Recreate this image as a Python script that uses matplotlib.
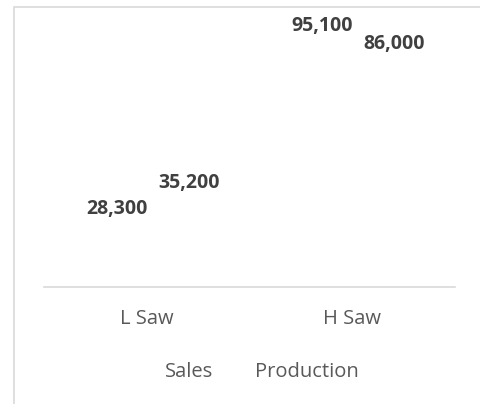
import matplotlib.pyplot as plt
import numpy as np
from matplotlib.patches import Rectangle

# ---- DATA ----
categories = ["L Saw", "H Saw"]
sales = [28300, 95100]
production = [35200, 86000]

plt.rcParams['font.family'] = ['Open Sans', 'DejaVu Sans']

fig = plt.figure(figsize=(4.81, 4.04), dpi=100)
# outer chart border (cut off at right and bottom)
fig.patches.append(Rectangle((14 / 481, -0.1), 1.2, (404 - 7) / 404 + 0.1,
                             transform=fig.transFigure, fill=False,
                             edgecolor="#d9d9d9", linewidth=1.2))

ax = fig.add_axes([44 / 481, (404 - 287) / 404, 411 / 481, 274 / 404])
x = np.arange(len(categories))
w = 0.34
b1 = ax.bar(x - 0.145, sales, w, color="white", label="Sales")
b2 = ax.bar(x + 0.205, production, w, color="white", label="Production")

for rect, v in zip(b1, sales):
    ax.annotate(f"{v:,}", (rect.get_x() + w / 2, v), xytext=(0, 0),
                textcoords="offset points", ha="center", va="center",
                fontsize=14, fontweight="bold", color="#404040")
for rect, v in zip(b2, production):
    ax.annotate(f"{v:,}", (rect.get_x() + w / 2, v), xytext=(0, 5.4),
                textcoords="offset points", ha="center", va="center",
                fontsize=14, fontweight="bold", color="#404040")

ax.set_xlim(-0.5, 1.5)
ax.set_ylim(0, 100000)
ax.set_xticks(x)
ax.set_xticklabels(categories, fontsize=14.5, color="#595959")
ax.tick_params(axis="x", length=0, pad=16)
ax.set_yticks([])
for s in ["top", "left", "right"]:
    ax.spines[s].set_visible(False)
ax.spines["bottom"].set_color("#d9d9d9")
ax.spines["bottom"].set_linewidth(1.2)

ax.legend(loc="center", bbox_to_anchor=(0.506, -0.31), ncol=2, frameon=False,
          fontsize=14.5, labelcolor="#595959", handlelength=0.6,
          handletextpad=0.4, columnspacing=1.1)

fig.savefig("out.png", dpi=100)
